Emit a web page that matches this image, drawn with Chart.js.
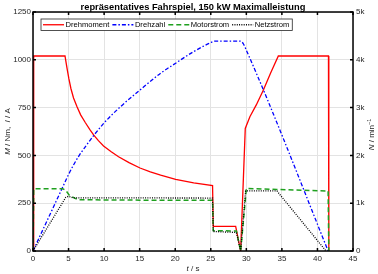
<!DOCTYPE html>
<html lang="de">
<head>
<meta charset="UTF-8">
<title>Fahrspiel</title>
<style>
  html, body { margin: 0; padding: 0; background: #fff; }
</style>
</head>
<body>
<canvas id="myChart" width="378" height="274"></canvas>
<script src="https://cdn.jsdelivr.net/npm/chart.js"></script>
<script>
  // Drehmoment (Nm), linke Achse
  const tM = [0, 0.1, 4.5, 4.7, 4.86, 5.05, 5.33, 5.7, 6.19, 6.7, 7.35, 8.0, 8.52, 9.2, 9.92, 11.0, 12.03, 13.5, 15.05, 16.5, 17.95, 20.06, 22.6, 25.25, 25.35, 28.5, 29.2, 29.85, 30.5, 31.4, 32.4, 33.4, 34.5, 41.55, 41.6];
  const M  = [0, 1020, 1020, 975, 940, 900, 850, 800, 755, 712, 672, 635, 607, 577, 549, 519, 493, 462, 434, 414, 397, 375, 356, 342, 129, 129, 0, 641, 702, 764, 842, 930, 1020, 1020, 0];
  // Drehzahl (1/min), rechte Achse
  const tN = [0, 4.5, 5.0, 5.7, 6.5, 7.3, 8.5, 10.0, 12.3, 15.05, 17.95, 20.06, 22.6, 25.0, 25.5, 29.2, 29.6, 30.0, 33.1, 41.5];
  const N  = [0, 1440, 1600, 1800, 2000, 2170, 2410, 2680, 3019, 3369, 3719, 3929, 4172, 4360, 4390, 4390, 4330, 4200, 3120, 0];
  // Motorstrom (A)
  const tIm = [0, 0.1, 4.2, 4.6, 5.1, 5.6, 6.3, 15, 25.25, 25.35, 28.6, 29.2, 30.0, 34.3, 41.5, 41.6];
  const Im  = [0, 325, 325, 318, 292, 282, 268, 266, 265, 106, 105, 0, 327, 322, 314, 0];
  // Netzstrom (A)
  const tIn = [0, 4.6, 5.0, 5.6, 25.25, 25.35, 28.6, 29.2, 29.9, 34.3, 41.2];
  const In  = [0, 280, 286, 278, 277, 102, 97, 0, 314, 314, 0];

  const xTicks = [0, 5, 10, 15, 20, 25, 30, 35, 40, 45];
  const seriesNames = ['Drehmoment', 'Drehzahl', 'Motorstrom', 'Netzstrom'];

  const FONT = "'Liberation Sans', Arial, sans-serif";
  const pts = (t, v) => t.map((x, i) => ({x: x, y: v[i]}));

  function rich(ctx, parts, x, y, rot) {
    ctx.save();
    ctx.translate(x, y);
    ctx.rotate(rot);
    ctx.textBaseline = 'middle';
    ctx.textAlign = 'left';
    let total = 0;
    parts.forEach(p => { ctx.font = p[1]; total += ctx.measureText(p[0]).width; });
    let cx = -total / 2;
    parts.forEach(p => {
      ctx.font = p[1];
      ctx.fillText(p[0], cx, p[2] || 0);
      cx += ctx.measureText(p[0]).width;
    });
    ctx.restore();
  }

  const decor = {
    id: 'decor',
    afterDraw(chart) {
      const ctx = chart.ctx;
      const a = chart.chartArea;
      const xs = chart.scales.x, ys = chart.scales.y, y1 = chart.scales.y1;
      ctx.save();
      // frame
      ctx.strokeStyle = '#000';
      ctx.lineWidth = 1.5;
      ctx.strokeRect(a.left, a.top, a.right - a.left, a.bottom - a.top);
      // inward tick marks
      ctx.beginPath();
      xs.ticks.forEach(t => {
        const px = xs.getPixelForValue(t.value);
        ctx.moveTo(px, a.bottom); ctx.lineTo(px, a.bottom - 3);
        ctx.moveTo(px, a.top); ctx.lineTo(px, a.top + 3);
      });
      ys.ticks.forEach(t => {
        const py = ys.getPixelForValue(t.value);
        ctx.moveTo(a.left, py); ctx.lineTo(a.left + 3, py);
      });
      y1.ticks.forEach(t => {
        const py = y1.getPixelForValue(t.value);
        ctx.moveTo(a.right, py); ctx.lineTo(a.right - 3, py);
      });
      ctx.stroke();

      // title
      ctx.fillStyle = '#000';
      ctx.font = 'bold 9.3px ' + FONT;
      ctx.textAlign = 'center';
      ctx.textBaseline = 'alphabetic';
      ctx.fillText('repräsentatives Fahrspiel, 150 kW Maximalleistung', (a.left + a.right) / 2, 9.5);

      // axis titles
      ctx.fillStyle = '#262626';
      const it = 'italic 8px ' + FONT, nf = '8px ' + FONT;
      rich(ctx, [['M', it], [' / Nm,  ', nf], ['I', it], [' / A', nf]], 8, (a.top + a.bottom) / 2, -Math.PI / 2);
      rich(ctx, [['N', it], [' / min', nf], ['\u22121', '5.5px ' + FONT, -3]], 372, (a.top + a.bottom) / 2 + 3, -Math.PI / 2);
      rich(ctx, [['t', it], [' / s', nf]], (a.left + a.right) / 2, 268.5, 0);

      // legend box
      const lx = a.left + 8, ly = a.top + 7, lh = 11.5;
      const lf = '7.6px ' + FONT;
      ctx.font = lf;
      let w = 2;
      chart.data.datasets.forEach(d => { w += 21 + 1.5 + ctx.measureText(d.label).width + 3; });
      ctx.fillStyle = '#fff';
      ctx.fillRect(lx, ly, w, lh);
      ctx.strokeStyle = '#262626';
      ctx.lineWidth = 0.8;
      ctx.strokeRect(lx, ly, w, lh);
      let cx = lx + 2;
      const cy = ly + lh / 2;
      chart.data.datasets.forEach(d => {
        ctx.strokeStyle = d.borderColor;
        ctx.lineWidth = d.borderWidth;
        ctx.setLineDash(d.borderDash || []);
        ctx.beginPath();
        ctx.moveTo(cx, cy); ctx.lineTo(cx + 21, cy);
        ctx.stroke();
        ctx.setLineDash([]);
        cx += 22.5;
        ctx.fillStyle = '#000';
        ctx.textAlign = 'left';
        ctx.textBaseline = 'middle';
        ctx.fillText(d.label, cx, cy + 0.5);
        cx += ctx.measureText(d.label).width + 3;
      });
      ctx.restore();
    }
  };

  const tickFont = {family: FONT, size: 8};
  const ctx = document.getElementById('myChart');
  new Chart(ctx, {
    type: 'line',
    data: {
      datasets: [
        {label: seriesNames[0], data: pts(tM, M), borderColor: '#ff0000', borderWidth: 1.3, yAxisID: 'y', order: 4},
        {label: seriesNames[1], data: pts(tN, N), borderColor: '#0000ff', borderWidth: 1.3, borderDash: [4, 2, 1.5, 2], yAxisID: 'y1', order: 3, cubicInterpolationMode: 'monotone'},
        {label: seriesNames[2], data: pts(tIm, Im), borderColor: '#1fa01f', borderWidth: 1.5, borderDash: [5, 3], yAxisID: 'y', order: 2},
        {label: seriesNames[3], data: pts(tIn, In), borderColor: '#000000', borderWidth: 1.3, borderDash: [1, 1.3], yAxisID: 'y', order: 1}
      ]
    },
    options: {
      responsive: false,
      devicePixelRatio: 1,
      animation: false,
      layout: {padding: {top: 12, left: 0, right: 0, bottom: 0}},
      elements: {point: {radius: 0}, line: {tension: 0, fill: false}},
      plugins: {legend: {display: false}, tooltip: {enabled: false}, title: {display: false}},
      scales: {
        x: {
          type: 'linear', min: 0, max: 45,
          afterBuildTicks: s => { s.ticks = xTicks.map(v => ({value: v})); },
          afterFit: s => { s.height = 23; },
          grid: {color: '#e3e3e3', lineWidth: 1, drawTicks: false},
          border: {display: false},
          ticks: {font: tickFont, color: '#262626', padding: 3, maxRotation: 0, autoSkip: false,
            callback: v => String(v)}
        },
        y: {
          position: 'left', min: 0, max: 1250,
          ticks: {stepSize: 250, font: tickFont, color: '#262626', padding: 2,
            callback: v => String(v)},
          afterFit: s => { s.width = 33; },
          grid: {color: '#e3e3e3', lineWidth: 1, drawTicks: false},
          border: {display: false}
        },
        y1: {
          position: 'right', min: 0, max: 5000,
          ticks: {stepSize: 1000, font: tickFont, color: '#262626', padding: 3,
            callback: v => v === 0 ? '0' : (v / 1000) + 'k'},
          afterFit: s => { s.width = 25; },
          grid: {display: false, drawTicks: false},
          border: {display: false}
        }
      }
    },
    plugins: [decor]
  });
</script>
</body>
</html>
